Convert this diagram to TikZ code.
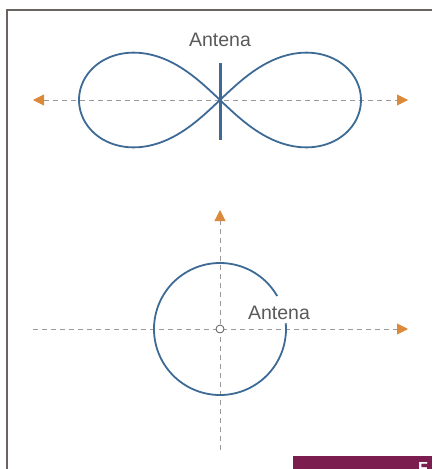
\documentclass[tikz,border=0pt]{standalone}
\usepackage{fontspec}
\setmainfont{Liberation Sans}
\usetikzlibrary{arrows.meta}

\definecolor{framegray}{HTML}{6B6262}
\definecolor{axisgray}{HTML}{9A9A9A}
\definecolor{lobeblue}{HTML}{3E6A96}
\definecolor{tiporange}{HTML}{DB8A3C}
\definecolor{labelgray}{HTML}{5A5A5A}
\definecolor{barmaroon}{HTML}{7B1D4F}

\begin{document}
\begin{tikzpicture}[
    x=1pt,
    y=-1pt,
    frame/.style={draw=framegray, line width=2pt},
    axis/.style={draw=axisgray, line width=0.9pt, dash pattern=on 5pt off 4pt},
    lobe/.style={draw=lobeblue, line width=1.8pt},
    antenna/.style={draw=lobeblue, line width=3pt},
    antlabel/.style={font=\fontsize{19.5}{21}\selectfont, text=labelgray, inner sep=0pt},
    endtip/.style={-{Triangle[length=11pt, width=11pt, color=tiporange]}},
    bothtips/.style={{Triangle[length=11pt, width=11pt, color=tiporange]}-{Triangle[length=11pt, width=11pt, color=tiporange]}}
]

% -------------------------------------------------------------------------
% Page
% -------------------------------------------------------------------------
\useasboundingbox (0,0) rectangle (432,469);
\fill[white] (0,0) rectangle (432,469);

\def\xmin{7}
\def\xmax{432}
\def\ymin{10}
\def\ymax{469}

% -------------------------------------------------------------------------
% Frame
% -------------------------------------------------------------------------
\draw[ frame ]
    (\xmax,\ymin) -- (\xmin,\ymin) -- (\xmin,\ymax);

% -------------------------------------------------------------------------
% Top: pattern of the vertical antenna
% -------------------------------------------------------------------------
\coordinate (top-center) at (220,100);
\coordinate (top-west) at (33,100);
\coordinate (top-east) at (408,100);
\coordinate (antenna-top) at (220,63);
\coordinate (antenna-bottom) at (220,140);

\draw[ axis, bothtips ]
    (top-west) -- (top-east);

% two lobes: lemniscate, x radius 141, height 95
\begin{scope}[shift={(top-center)}]
\draw[ lobe ]
    plot[domain=0:360, samples=145, smooth cycle]
    ({141*cos(\x)/(1+sin(\x)*sin(\x))}, {134*sin(\x)*cos(\x)/(1+sin(\x)*sin(\x))});
\end{scope}

\draw[ antenna ]
    (antenna-top) -- (antenna-bottom);

\node[ antlabel ] (antena-top) at (220,40) {Antena};

% -------------------------------------------------------------------------
% Bottom: pattern seen from above
% -------------------------------------------------------------------------
\coordinate (circ-center) at (220,329);
\coordinate (circ-west) at (33,329);
\coordinate (circ-east) at (408,329);
\coordinate (circ-north) at (220,210);
\coordinate (circ-south) at (220,450);

\draw[ axis, endtip ]
    (circ-west) -- (circ-east);
\draw[ axis, endtip ]
    (circ-south) -- (circ-north);

% circle broken where the label sits
\draw[ lobe ] (circ-center) ++(-30:66)
    arc [ start angle=-30, end angle=-365, radius=66 ];

% antenna seen end-on
\draw[ labelgray, line width=0.8pt, fill=white ] (circ-center) circle (4);

\node[ antlabel ] (antena-bottom) at (279,313) {Antena};

% -------------------------------------------------------------------------
% Caption bar (cut off)
% -------------------------------------------------------------------------
\begin{scope}
\clip (293,456) rectangle (432,469);
\fill[ barmaroon ] (293,456) rectangle (432,469);
\node[ anchor=north west, inner sep=0pt, text=white,
       font=\fontsize{16}{18}\selectfont\bfseries ] (caption) at (418,462) {F};
\end{scope}

\end{tikzpicture}
\end{document}
